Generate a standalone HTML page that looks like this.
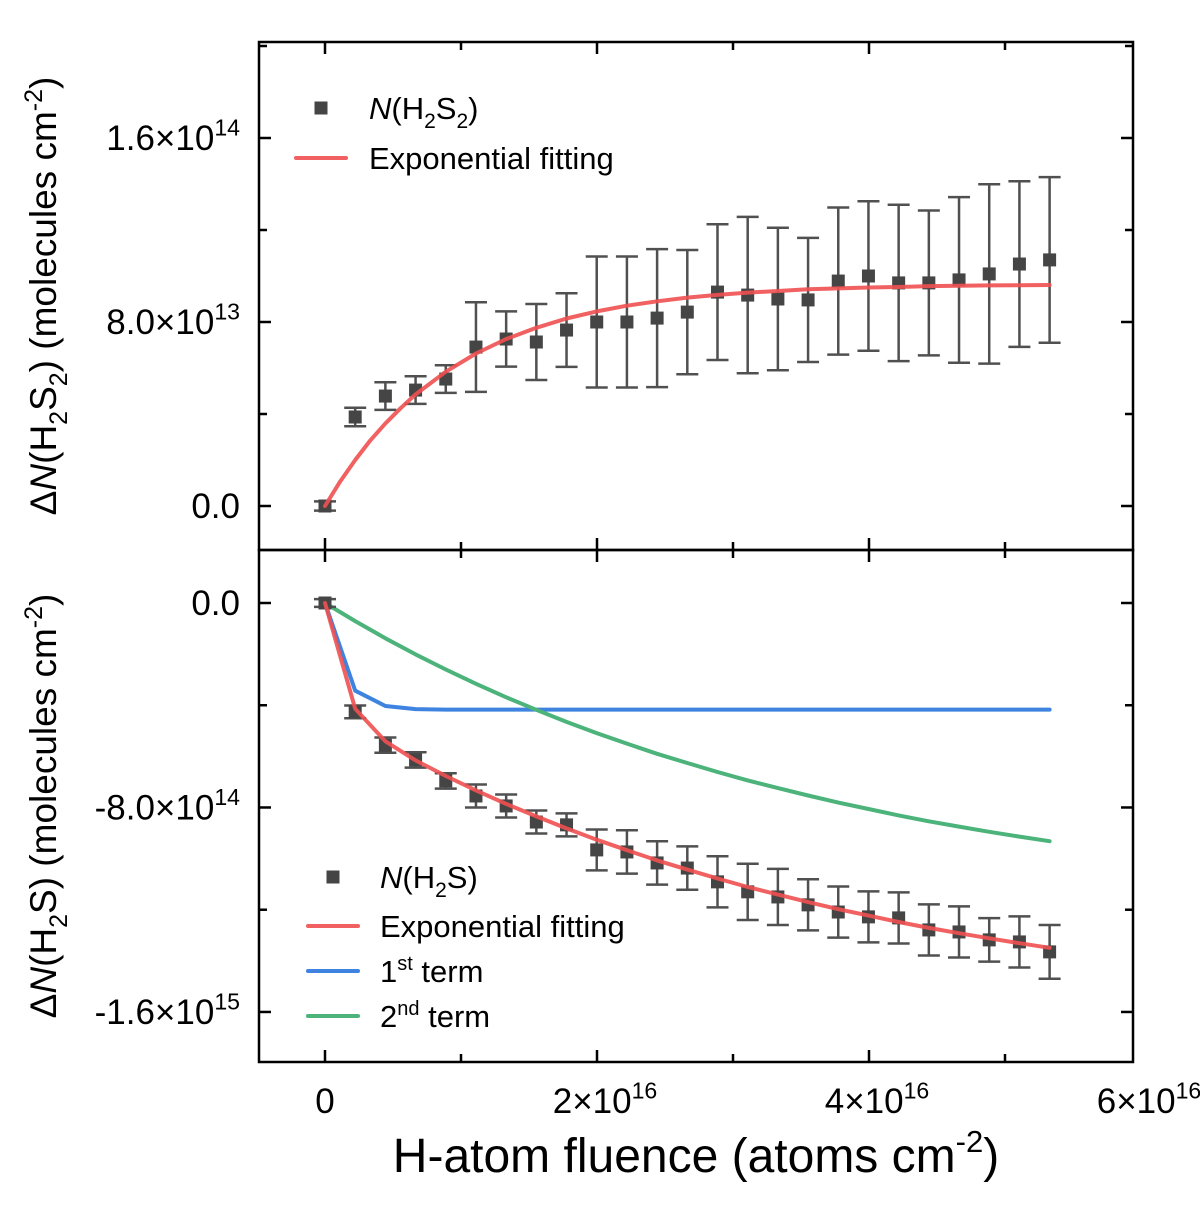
<!DOCTYPE html>
<html><head><meta charset="utf-8"><style>
html,body{margin:0;padding:0;background:#fff;}
svg{display:block;font-family:"Liberation Sans",Arial,sans-serif;}
</style></head><body>
<svg id="chart" width="1200" height="1215" viewBox="0 0 1200 1215" xmlns="http://www.w3.org/2000/svg"></svg>
<script>
// ---- data (fluence in 1e16 atoms cm^-2) ----
const fluence = [0,0.222,0.444,0.666,0.888,1.11,1.332,1.554,1.776,1.998,2.22,2.442,2.664,2.886,3.108,3.33,3.552,3.774,3.996,4.218,4.44,4.662,4.884,5.106,5.328];
// top panel: N(H2S2) in 1e13
const h2s2Vals = [0,3.87,4.78,5.04,5.52,6.91,7.26,7.13,7.65,8.0,8.0,8.17,8.43,9.30,9.17,9.0,8.96,9.78,10.0,9.70,9.70,9.83,10.09,10.52,10.70];
const h2s2Err  = [0.2,0.4,0.6,0.6,0.6,1.95,1.2,1.65,1.6,2.85,2.85,3.0,2.7,2.95,3.4,3.1,2.7,3.2,3.25,3.4,3.15,3.6,3.9,3.6,3.6];
const fitFluenceTop = [0,0.111,0.222,0.333,0.444,0.555,0.666,0.888,1.11,1.332,1.554,1.776,1.998,2.22,2.442,2.664,2.886,3.108,3.33,3.552,3.774,3.996,4.218,4.44,4.662,4.884,5.106,5.328];
const h2s2Fit  = [0,1.06,2.00,2.85,3.59,4.25,4.85,5.84,6.63,7.26,7.75,8.15,8.46,8.71,8.90,9.06,9.18,9.28,9.35,9.42,9.46,9.50,9.52,9.56,9.58,9.59,9.60,9.61];
// bottom panel: N(H2S) in 1e14
const h2sVals = [0,-4.26,-5.56,-6.14,-6.96,-7.55,-7.94,-8.57,-8.68,-9.66,-9.74,-10.17,-10.37,-10.91,-11.30,-11.50,-11.81,-12.09,-12.28,-12.32,-12.79,-12.87,-13.18,-13.26,-13.65];
const h2sErr  = [0.15,0.25,0.3,0.3,0.3,0.45,0.45,0.45,0.45,0.8,0.85,0.85,0.85,1.0,1.1,1.1,1.0,1.0,1.0,1.0,1.0,1.0,0.85,1.0,1.05];
const h2sFit  = [0,-4.14,-5.41,-6.16,-6.77,-7.33,-7.86,-8.35,-8.82,-9.26,-9.67,-10.07,-10.43,-10.78,-11.11,-11.41,-11.70,-11.98,-12.23,-12.48,-12.71,-12.92,-13.12,-13.31,-13.49];
const term1   = [0,-3.43,-4.03,-4.15,-4.17,-4.17,-4.17,-4.17,-4.17,-4.17,-4.17,-4.17,-4.17,-4.17,-4.17,-4.17,-4.17,-4.17,-4.17,-4.17,-4.17,-4.17,-4.17,-4.17,-4.17];
const term2   = [0,-0.71,-1.38,-2.01,-2.60,-3.16,-3.69,-4.18,-4.65,-5.09,-5.50,-5.90,-6.26,-6.61,-6.94,-7.24,-7.53,-7.81,-8.06,-8.31,-8.54,-8.75,-8.95,-9.14,-9.32];
const xTicks = [0,2,4,6];
const xTickLabels = ["0","2×10","4×10","6×10"];
const topTicks = [0,8,16];
const topTickLabels = ["0.0","8.0×10","1.6×10"];
const botTicks = [0,-8,-16];
const botTickLabels = ["0.0","-8.0×10","-1.6×10"];

const NS="http://www.w3.org/2000/svg";
const svg=document.getElementById('chart');
function mk(tag,attrs,parent){const e=document.createElementNS(NS,tag);for(const k in attrs)e.setAttribute(k,attrs[k]);(parent||svg).appendChild(e);return e;}
const L=259,R=1133,T=42,M=550,B=1062;
const xs=v=>325+v*136;
const ysTop=v=>506-v*23;
function ysB(v){return 603-v*25.56;}

const f1=mk('rect',{x:L,y:T,width:R-L,height:M-T,fill:'none',stroke:'#000','stroke-width':2.5});


const f2=mk('rect',{x:L,y:M,width:R-L,height:B-M,fill:'none',stroke:'#000','stroke-width':2.5});



function tick(x1,y1,x2,y2){const t=mk('line',{x1,y1,x2,y2,stroke:'#000','stroke-width':2.5});}
for(let v=0;v<=5;v++){const x=xs(v);const len=(v%2===0)?12:8;
  tick(x,B,x,B-len);tick(x,M,x,M-len);tick(x,M,x,M+len);tick(x,T,x,T+len);}
for(let v=-4;v<=20;v+=4){const y=ysTop(v);if(y<T||y>M)continue;const len=(v%8===0)?12:8;tick(L,y,L+len,y);tick(R,y,R-len,y);}
for(let v=4;v>=-20;v-=4){const y=ysB(v);if(y<M||y>B)continue;const len=(v%8===0)?12:8;tick(L,y,L+len,y);tick(R,y,R-len,y);}

function sciLabel(x,y,base,exp,anchor,size,name){
  const t=mk('text',{x,y,'font-size':size,'text-anchor':anchor,fill:'#000'});
  
  
  const s1=mk('tspan',{},t);s1.textContent=base;
  if(exp){const s2=mk('tspan',{dy:-size*0.42,'font-size':size*0.66},t);s2.textContent=exp;}
  return t;
}
xTicks.forEach((v,i)=>{sciLabel(xs(v)+(i===0?0:8),1113,xTickLabels[i],i===0?'':'16','middle',35,'x-tick-label');});
topTicks.forEach((v,i)=>{sciLabel(240,ysTop(v)+12,topTickLabels[i],i===0?'':(i===1?'13':'14'),'end',35,'top-y-tick-label');});
botTicks.forEach((v,i)=>{sciLabel(240,ysB(v)+12,botTickLabels[i],i===0?'':(i===1?'14':'15'),'end',35,'bottom-y-tick-label');});

const xt=mk('text',{x:696,y:1172,'font-size':48,'text-anchor':'middle'});


xt.innerHTML='H-atom fluence (atoms cm<tspan dy="-20" font-size="31">-2</tspan><tspan dy="20">)</tspan>';
const yt1=mk('text',{transform:'translate(56,296) rotate(-90)','font-size':37,'text-anchor':'middle'});


yt1.innerHTML='Δ<tspan font-style="italic">N</tspan>(H<tspan dy="11" font-size="25">2</tspan><tspan dy="-11">S</tspan><tspan dy="11" font-size="25">2</tspan><tspan dy="-11">) (molecules cm</tspan><tspan dy="-14" font-size="25">-2</tspan><tspan dy="14">)</tspan>';
const yt2=mk('text',{transform:'translate(56,806) rotate(-90)','font-size':37,'text-anchor':'middle'});


yt2.innerHTML='Δ<tspan font-style="italic">N</tspan>(H<tspan dy="11" font-size="25">2</tspan><tspan dy="-11">S) (molecules cm</tspan><tspan dy="-14" font-size="25">-2</tspan><tspan dy="14">)</tspan>';

function line(xv,vals,ys,color,name){
  const pts=vals.map((v,i)=>xs(xv[i]).toFixed(1)+','+ys(v).toFixed(1)).join(' ');
  const p=mk('polyline',{points:pts,fill:'none',stroke:color,'stroke-width':4,'stroke-linejoin':'round','stroke-linecap':'round'});
  
  
}
function points(vals,errs,ys,name){
  vals.forEach((v,i)=>{const x=xs(fluence[i]);const y=ys(v);
    const e1=ys(v+errs[i]),e2=ys(v-errs[i]);
    const g=mk('g',{stroke:'#505050','stroke-width':2.5});
    
    
    mk('line',{x1:x,y1:e1,x2:x,y2:e2},g);
    mk('line',{x1:x-11,y1:e1,x2:x+11,y2:e1},g);
    mk('line',{x1:x-11,y1:e2,x2:x+11,y2:e2},g);
    const r=mk('rect',{x:x-6.5,y:y-6.5,width:13,height:13,fill:'#454545'});
    
    
  });
}
points(h2s2Vals,h2s2Err,ysTop,'h2s2');
line(fitFluenceTop,h2s2Fit,ysTop,'rgba(240,80,80,0.9)','h2s2-fit-line');
line(fluence,term1,ysB,'#3f83e0','first-term-line');
line(fluence,term2,ysB,'#4cb37a','second-term-line');
points(h2sVals,h2sErr,ysB,'h2s');
line(fluence,h2sFit,ysB,'rgba(240,80,80,0.9)','h2s-fit-line');

function legSq(x,y,name){const r=mk('rect',{x:x-6.5,y:y-6.5,width:13,height:13,fill:'#454545'});}
function legLine(x,y,c,name){const l=mk('line',{x1:x-25,y1:y,x2:x+25,y2:y,stroke:c,'stroke-width':4,'stroke-linecap':'round'});}
function legText(x,y,html,name){const t=mk('text',{x,y:y+11,'font-size':31});t.innerHTML=html;}
legSq(321,108,'legend-h2s2-marker');
legText(369,108,'<tspan font-style="italic">N</tspan>(H<tspan dy="9" font-size="21">2</tspan><tspan dy="-9">S</tspan><tspan dy="9" font-size="21">2</tspan><tspan dy="-9">)</tspan>','legend-h2s2-label');
legLine(321,158,'rgba(240,80,80,0.9)','legend-fit-line');
legText(369,158,'Exponential fitting','legend-fit-label');
legSq(333,877,'legend-h2s-marker');
legText(380,877,'<tspan font-style="italic">N</tspan>(H<tspan dy="9" font-size="21">2</tspan><tspan dy="-9">S)</tspan>','legend-h2s-label');
legLine(333,926,'rgba(240,80,80,0.9)','legend-fit2-line');
legText(380,926,'Exponential fitting','legend-fit2-label');
legLine(333,971,'#3f83e0','legend-term1-line');
legText(380,971,'1<tspan dy="-12" font-size="20">st</tspan><tspan dy="12"> term</tspan>','legend-term1-label');
legLine(333,1016,'#4cb37a','legend-term2-line');
legText(380,1016,'2<tspan dy="-12" font-size="20">nd</tspan><tspan dy="12"> term</tspan>','legend-term2-label');
</script>
</body></html>
